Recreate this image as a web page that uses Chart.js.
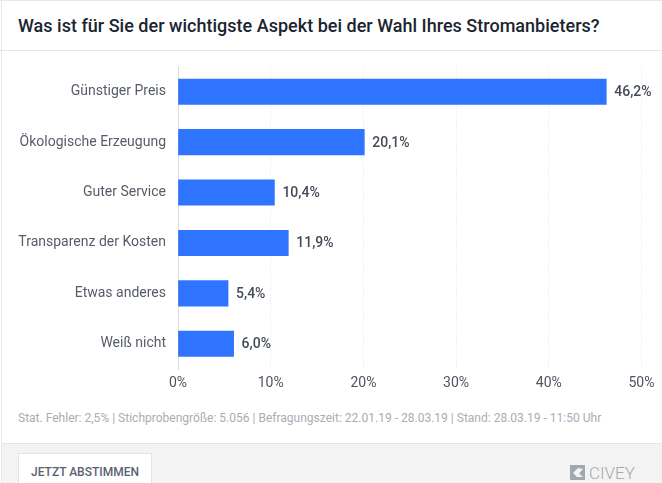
<!DOCTYPE html>
<html>
<head>
<meta charset="utf-8">
<script src="https://cdn.jsdelivr.net/npm/chart.js@4"></script>
<style>
html,body{margin:0;padding:0;background:#fff;}
body{width:662px;height:483px;overflow:hidden;position:relative;font-family:Roboto,sans-serif;}
#frameTop{position:absolute;left:0;top:0;width:662px;height:1px;background:#e8e8e8;}
#frameLeft{position:absolute;left:1px;top:0;width:1px;height:483px;background:#e8e8e8;}
#title{position:absolute;left:18px;top:14px;font-size:18px;font-weight:500;line-height:24px;color:#1b2431;white-space:nowrap;letter-spacing:.015px;}
#titleLine{position:absolute;left:0;top:50px;width:662px;height:1px;background:#e6e6e6;}
#chartBox{position:absolute;left:0;top:51px;width:662px;height:346px;}
#meta{position:absolute;left:18px;top:410px;font-size:12px;line-height:16px;color:#a9adb4;white-space:nowrap;letter-spacing:.01px;}
#footer{position:absolute;left:2px;top:443px;width:660px;height:40px;background:#f3f3f3;border-top:1px solid #e4e4e4;}
#vote{position:absolute;left:16px;top:9px;width:132px;height:31px;background:#fff;border:1px solid #e4e4e4;border-bottom:0;font-size:12px;font-weight:500;line-height:37px;text-align:center;color:#5a6270;}
#logo{position:absolute;left:568px;top:19px;font-size:17px;font-weight:300;line-height:20px;color:#a3a8ad;white-space:nowrap;padding-left:19px;}
#logo svg{position:absolute;left:0;top:2px;}
</style>
</head>
<body>
<div id="frameTop"></div>
<div id="frameLeft"></div>
<div id="title">Was ist für Sie der wichtigste Aspekt bei der Wahl Ihres Stromanbieters?</div>
<div id="titleLine"></div>
<div id="chartBox"><canvas id="chart"></canvas></div>
<div id="meta">Stat. Fehler: 2,5% | Stichprobengröße: 5.056 | Befragungszeit: 22.01.19 - 28.03.19 | Stand: 28.03.19 - 11:50 Uhr</div>
<div id="footer">
    <div id="vote">JETZT ABSTIMMEN</div>
    <div id="logo"><svg width="15" height="15" viewBox="0 0 15 15"><rect width="15" height="15" fill="#a3a8ad"/><path d="M3 8 L7 12 L13 12 L9 8.5 L13 4 L8 3 Z" fill="#f3f3f3"/></svg>CIVEY</div>
</div>
<script>
const categories = ['Günstiger Preis','Ökologische Erzeugung','Guter Service','Transparenz der Kosten','Etwas anderes','Weiß nicht']
const values = [46.2,20.1,10.4,11.9,5.4,6.0]
const xTicks = [0,10,20,30,40,50]

const fmt = v => v.toFixed(1).replace('.',',') + '%'

/*=============================================
VALUE LABELS
=============================================*/

const valueLabels = {
    id:'valueLabels',
    afterDatasetsDraw:(chart)=>{
        let ctx = chart.ctx
        let bars = chart.getDatasetMeta(0).data
        ctx.save()
        ctx.font = '500 14px Roboto'
        ctx.fillStyle = '#444b57'
        ctx.textBaseline = 'middle'
        bars.forEach((bar,i)=>{
            ctx.fillText(fmt(values[i]),bar.x + 8,bar.y + 1)
        })
        ctx.restore()
    }
}

Chart.defaults.font.family = 'Roboto'

new Chart(document.getElementById('chart'),{
    type:'bar',
    data:{
        labels:categories,
        datasets:[{
            data:values,
            backgroundColor:'#2e74ff',
            barThickness:25.5,
            borderWidth:0
        }]
    },
    options:{
        indexAxis:'y',
        responsive:true,
        maintainAspectRatio:false,
        animation:false,
        layout:{padding:{top:15.5,right:20.5,bottom:0,left:0}},
        plugins:{legend:{display:false},tooltip:{enabled:false}},
        scales:{
            x:{
                min:0,
                max:50,
                afterBuildTicks:(axis)=>{ axis.ticks = xTicks.map(v=>({value:v})) },
                afterFit:(axis)=>{ axis.height = 28 },
                grid:{color:'#e2e2e2',lineWidth:1,drawTicks:false},
                border:{display:false,dash:[1,2]},
                ticks:{color:'#4d5461',font:{size:14},padding:6,maxRotation:0,
                    callback:(v)=>v + '%'}
            },
            y:{
                afterFit:(axis)=>{ axis.width = 178 },
                grid:{display:false},
                border:{display:true,color:'#dddddd',width:1},
                ticks:{color:'#565c68',font:{size:14},padding:4}
            }
        }
    },
    plugins:[valueLabels]
})
</script>
</body>
</html>
